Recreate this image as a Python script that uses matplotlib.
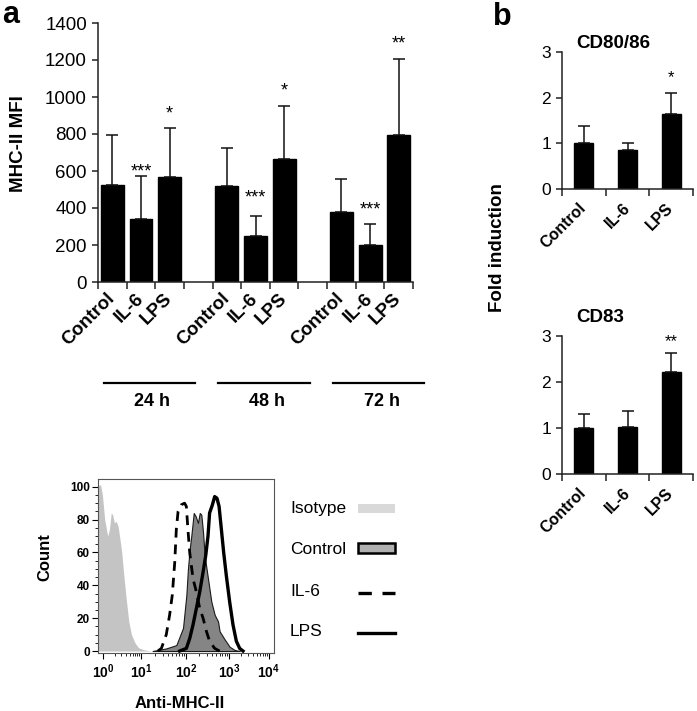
import numpy as np
import matplotlib
matplotlib.use("Agg")
import matplotlib.pyplot as plt
import matplotlib.transforms as mtransforms
from matplotlib.patches import Rectangle

plt.rcParams['font.family'] = ['Liberation Sans', 'DejaVu Sans']
plt.rcParams['mathtext.fontset'] = 'custom'
plt.rcParams['mathtext.rm'] = 'Liberation Sans'
plt.rcParams['mathtext.bf'] = 'Liberation Sans:bold'

# ---- data: panel a (MHC-II MFI) ----
times = ['24 h', '48 h', '72 h']
treatments = ['Control', 'IL-6', 'LPS']
mfi_control = [527, 520, 376]
mfi_control_sd = [268, 202, 182]
mfi_il6 = [341, 249, 202]
mfi_il6_sd = [231, 107, 112]
mfi_lps = [569, 665, 795]
mfi_lps_sd = [266, 287, 412]
il6_stars = ['***', '***', '***']
il6_star_y = [625, 482, 421]
lps_stars = ['*', '*', '**']
lps_star_y = [939, 1060, 1319]

# ---- data: panel b (fold induction) ----
cd80_mean = [1.01, 0.86, 1.65]
cd80_sd = [0.37, 0.15, 0.45]
cd80_star = ['', '', '*']
cd80_star_y = [0, 0, 2.55]
cd83_mean = [1.00, 1.02, 2.22]
cd83_sd = [0.31, 0.35, 0.41]
cd83_star = ['', '', '**']
cd83_star_y = [0, 0, 3.0]

# ---- data: histogram (x in display channel units 0-100) ----
decade_labels = [r'$\mathbf{10^{0}}$', r'$\mathbf{10^{1}}$', r'$\mathbf{10^{2}}$',
                 r'$\mathbf{10^{3}}$', r'$\mathbf{10^{4}}$']
decade_pos = [3, 24.5, 50, 74.5, 97]

iso_x = [0, 1.5, 2.5, 3.8, 5.5, 6.5, 7.5, 8.3, 9.3, 10.3, 11.4, 12.5, 13.5, 14.5,
         16, 17.5, 19, 21, 23, 26, 30]
iso_y = [101, 101, 95, 80, 70, 74, 84, 83, 78, 79, 76, 68, 60, 48,
         32, 18, 10, 5, 2, 0.8, 0]
ctrl_x = [31, 38.8, 44.5, 48.3, 50.2, 51.1, 52.1, 53.0, 54.4, 55.5, 56.8, 57.8, 58.7,
          59.7, 60.6, 62.5, 64.4, 66.3, 68.2, 69.1, 72.0, 74.8, 77.7, 80.5]
ctrl_y = [0, 1.6, 3.6, 14, 34, 50, 62, 70, 84, 82, 78, 84, 83,
          72, 58, 44, 30, 22, 18, 12, 7, 2.6, 0.6, 0]
il6_x = [34, 36.0, 38.8, 40.7, 42.2, 43.6, 44.5, 45.5, 47.3, 49.2, 50.2, 51.1, 52.1,
         54.0, 55.9, 57.8, 59.7, 61.6, 63.4, 66.3, 69.1]
il6_y = [0, 1.6, 10, 22, 34, 54, 74, 85, 89, 90, 88, 74, 60,
         44, 36, 26, 20, 12, 6, 1.6, 0]
lps_x = [46.4, 50.2, 52.1, 54.0, 55.9, 57.8, 59.7, 61.2, 62.5, 63.4, 65.0, 66.3, 67.6,
         68.8, 70.1, 71.4, 72.9, 74.8, 76.7, 78.6, 80.5, 82.4]
lps_y = [0, 1.6, 7.6, 16, 26, 36, 48, 58, 70, 84, 89, 94, 93,
         88, 74, 60, 46, 30, 16, 6, 1.6, 0]

W, H = 697, 711
fig = plt.figure(figsize=(W / 100, H / 100), dpi=100)


def px_axes(left, top, right, bottom):
    return fig.add_axes([left / W, 1 - bottom / H, (right - left) / W, (bottom - top) / H])


def style_bar_axes(ax, lw=1.1):
    for s in ['top', 'right']:
        ax.spines[s].set_visible(False)
    for s in ['left', 'bottom']:
        ax.spines[s].set_linewidth(lw)
        ax.spines[s].set_color('#222222')
    ax.tick_params(axis='y', direction='out', length=4, width=lw, color='#222222')


# ================= panel a =================
ax = px_axes(98, 23, 413, 282)
style_bar_axes(ax)
group_start = [0, 4, 8]
pos = []
means = []
sds = []
for g in range(3):
    for k, (m, s) in enumerate(zip([mfi_control, mfi_il6, mfi_lps],
                                   [mfi_control_sd, mfi_il6_sd, mfi_lps_sd])):
        pos.append(group_start[g] + k)
        means.append(m[g])
        sds.append(s[g])
ax.bar(pos, means, width=0.8, color='black', edgecolor='black')
ax.errorbar(pos, means, yerr=[np.zeros(len(sds)), sds], fmt='none', ecolor='#111111',
            elinewidth=1.1, capsize=4, capthick=1.1)
for g in range(3):
    ax.annotate(il6_stars[g], (group_start[g] + 1, il6_star_y[g]), xytext=(0, -4),
                textcoords='offset points', ha='center', va='center', fontsize=13)
    ax.annotate(lps_stars[g], (group_start[g] + 2, lps_star_y[g]), xytext=(0, -4),
                textcoords='offset points', ha='center', va='center', fontsize=13)
ax.set_xlim(-0.5, 10.5)
ax.set_ylim(0, 1400)
ax.set_yticks(np.arange(0, 1401, 200))
ax.tick_params(axis='y', labelsize=13.5, pad=4)
ax.set_xticks(pos)
ax.set_xticklabels(treatments * 3, rotation=45, ha='right', va='center',
                   rotation_mode='anchor', fontsize=13.5, fontweight='bold')
ax.tick_params(axis='x', which='major', length=0, pad=10)
ax.set_xticks(np.arange(-0.5, 10.6, 1), minor=True)
ax.tick_params(axis='x', which='minor', direction='out', length=5, width=1.1, color='#222222')

trans = mtransforms.blended_transform_factory(ax.transData, ax.transAxes)
for g, t in enumerate(times):
    x0 = group_start[g] - 0.3
    x1 = group_start[g] + 2 + 0.9
    ax.plot([x0, x1], [-0.39, -0.39], color='black', lw=1.6, transform=trans, clip_on=False)
    ax.text((x0 + x1) / 2 + 0.1, -0.463, t, transform=trans, ha='center', va='center',
            fontsize=13, fontweight='bold')

fig.text(19 / W, 1 - 144 / H, 'MHC-II MFI', rotation=90, ha='center', va='center',
         fontsize=13.5, fontweight='bold')
fig.text(2 / W, 1 - 23 / H, 'a', ha='left', va='baseline', fontsize=22, fontweight='bold')

# ================= panel b =================
for top, bottom, title, title_xy, mean, sd, stars, star_y in [
        (52, 189, 'CD80/86', (613, 43), cd80_mean, cd80_sd, cd80_star, cd80_star_y),
        (336, 474, 'CD83', (600, 317), cd83_mean, cd83_sd, cd83_star, cd83_star_y)]:
    bx = px_axes(562, top, 693, bottom)
    style_bar_axes(bx)
    xs = np.arange(3)
    bx.bar(xs, mean, width=0.43, color='black', edgecolor='black')
    bx.errorbar(xs, mean, yerr=[np.zeros(3), sd], fmt='none', ecolor='#111111',
                elinewidth=1.1, capsize=4, capthick=1.1)
    for x, s, y in zip(xs, stars, star_y):
        if s:
            bx.annotate(s, (x, y), xytext=(0, -4), textcoords='offset points',
                        ha='center', va='center', fontsize=12)
    bx.set_xlim(-0.5, 2.5)
    bx.set_ylim(0, 3)
    bx.set_yticks([0, 1, 2, 3])
    bx.tick_params(axis='y', labelsize=12.5, pad=4)
    bx.set_xticks(xs)
    bx.set_xticklabels(treatments, rotation=45, ha='right', va='center',
                       rotation_mode='anchor', fontsize=11.5, fontweight='bold')
    bx.tick_params(axis='x', which='major', length=0, pad=12)
    bx.set_xticks(np.arange(-0.5, 2.6, 1), minor=True)
    bx.tick_params(axis='x', which='minor', direction='out', length=5, width=1.1,
                   color='#222222')
    fig.text(title_xy[0] / W, 1 - title_xy[1] / H, title, ha='center', va='center',
             fontsize=13.5, fontweight='bold')

fig.text(497 / W, 1 - 248 / H, 'Fold induction', rotation=90, ha='center', va='center',
         fontsize=13.5, fontweight='bold')
fig.text(493 / W, 1 - 25 / H, 'b', ha='left', va='baseline', fontsize=22, fontweight='bold')

# ================= histogram =================
hx = px_axes(98, 479, 274, 653)
hx.fill_between(iso_x, iso_y, 0, color='#c4c4c4', lw=0)
hx.fill_between(ctrl_x, ctrl_y, 0, facecolor='#858585', edgecolor='#1a1a1a', lw=0.8)
hx.plot(il6_x, il6_y, color='black', lw=2.0, dashes=(3.5, 2.5))
hx.plot(lps_x, lps_y, color='black', lw=2.4)
hx.set_xlim(0, 100)
hx.set_ylim(-1.2, 104.7)
for s in hx.spines.values():
    s.set_linewidth(0.8)
    s.set_color('#555555')
hx.set_yticks([0, 20, 40, 60, 80, 100])
hx.set_yticks(np.arange(0, 101, 5), minor=True)
hx.tick_params(axis='y', which='major', length=4, width=0.8, labelsize=8.5, pad=2)
hx.tick_params(axis='y', which='minor', length=2, width=0.6)
for lab in hx.get_yticklabels():
    lab.set_fontweight('bold')
hx.set_xticks(decade_pos)
hx.set_xticklabels(decade_labels, fontsize=10)
minor = []
for d0, d1 in zip(decade_pos[:-1], decade_pos[1:]):
    minor += [d0 + np.log10(k) * (d1 - d0) for k in range(2, 10)]
hx.set_xticks(minor, minor=True)
hx.tick_params(axis='x', which='major', length=4, width=0.8, pad=3)
hx.tick_params(axis='x', which='minor', length=2, width=0.6)

fig.text(45 / W, 1 - 557 / H, 'Count', rotation=90, ha='center', va='center',
         fontsize=12, fontweight='bold')
fig.text(180 / W, 1 - 703 / H, 'Anti-MHC-II', ha='center', va='center',
         fontsize=12, fontweight='bold')

# legend drawn in its own pixel-unit axes
lg = px_axes(285, 490, 405, 650)
lg.set_xlim(285, 405)
lg.set_ylim(650, 490)
lg.axis('off')
legend_names = ['Isotype', 'Control', 'IL-6', 'LPS']
legend_rows = [509, 549, 592, 632]
for name, y in zip(legend_names, legend_rows):
    lg.text(290, y, name, ha='left', va='center', fontsize=12.5)
lg.add_patch(Rectangle((358, 504), 37, 9, facecolor='#d9d9d9', edgecolor='none'))
lg.add_patch(Rectangle((358, 543), 37, 10, facecolor='#b0b0b0', edgecolor='black', lw=1.8))
lg.plot([358, 395], [593, 593], color='black', lw=2.4, dashes=(4, 3.2))
lg.plot([358, 395], [633, 633], color='black', lw=2.4)

fig.savefig('out.png', dpi=100)
